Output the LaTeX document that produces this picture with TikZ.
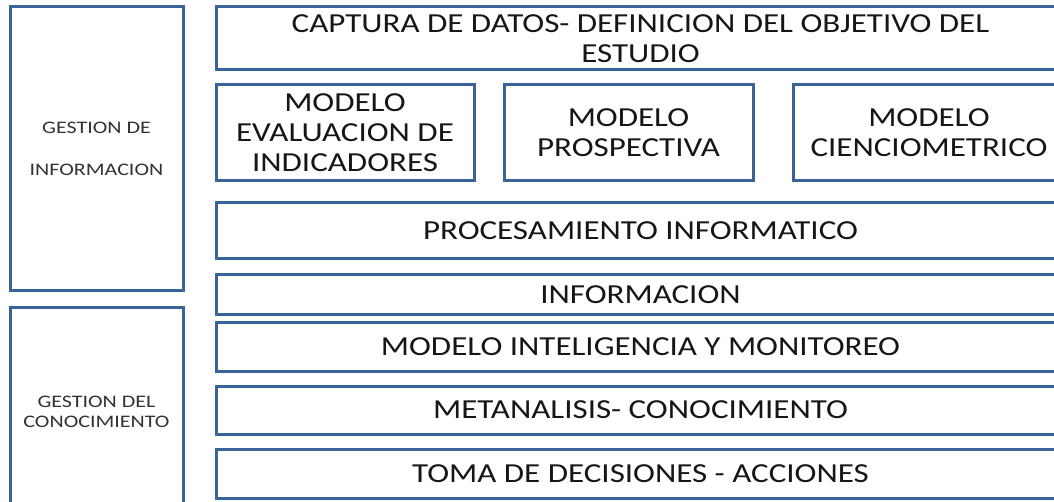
\documentclass[tikz,border=0pt]{standalone}
\usepackage{fontspec}
\setmainfont{Carlito}
\newfontfamily\mainf[FakeStretch=1.2]{Carlito}
\newfontfamily\smallf[FakeStretch=1.25]{Carlito}
\definecolor{edge}{HTML}{3A6398}
\definecolor{ink}{HTML}{161616}
\definecolor{greyink}{HTML}{333333}
\tikzset{
  box/.style={draw=edge, line width=3pt, fill=white, rectangle, inner sep=0pt, align=center, text=ink,
    font=\mainf\fontsize{27.5}{30}\selectfont},
  side/.style={box, text=greyink, font=\smallf\fontsize{17.6}{20}\selectfont},
}
\begin{document}
\begin{tikzpicture}[x=1pt,y=1pt]
\useasboundingbox[fill=white] (0,0) rectangle (1054,-502);
\begin{scope}
\clip (0,0) rectangle (1054,-502);
\node[side, minimum width=173, minimum height=284] (gi) at (96.5,-149) {GESTION DE\\[22pt]INFORMACION};
\node[side, minimum width=173, minimum height=207] (gc) at (96.5,-411.5) {GESTION DEL\\CONOCIMIENTO};
\node[box, minimum width=849, minimum height=63] (cap) at (640.5,-38.5) {CAPTURA DE DATOS- DEFINICION DEL OBJETIVO DEL\\ESTUDIO};
\node[box, minimum width=258, minimum height=96] (m1) at (345,-133) {MODELO\\EVALUACION DE\\INDICADORES};
\node[box, minimum width=249, minimum height=96] (m2) at (628.5,-133) {MODELO\\PROSPECTIVA};
\node[box, minimum width=272, minimum height=96] (m3) at (929,-133) {MODELO\\CIENCIOMETRICO};
\node[box, minimum width=849, minimum height=56] (proc) at (640.5,-231) {PROCESAMIENTO INFORMATICO};
\node[box, minimum width=849, minimum height=40] (info) at (640.5,-295) {INFORMACION};
\node[box, minimum width=849, minimum height=48] (mim) at (640.5,-347) {MODELO INTELIGENCIA Y MONITOREO};
\node[box, minimum width=849, minimum height=48] (meta) at (640.5,-410) {METANALISIS- CONOCIMIENTO};
\node[box, minimum width=849, minimum height=49] (toma) at (640.5,-473.5) {TOMA DE DECISIONES - ACCIONES};
\end{scope}
\end{tikzpicture}
\end{document}
